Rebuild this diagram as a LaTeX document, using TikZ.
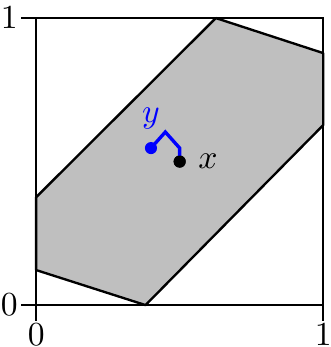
\documentclass[tikz,border=0pt]{standalone}
\usetikzlibrary{positioning}

\begin{document}
\begin{tikzpicture}[
        x=3cm, y=3cm,
        frame/.style={line width=0.7pt, line cap=rect},
        region/.style={fill=gray!50, draw=black, line width=0.7pt, line join=round},
        pdot/.style={circle, fill, inner sep=0pt, minimum size=3.6pt},
        geo/.style={blue, line width=1pt, line join=miter},
        ticklbl/.style={inner sep=1pt},
    ]
        \useasboundingbox (-0.126,-0.146) rectangle (1.0245,1.063);

        % fundamental domain
        \draw[region] (0,0.376) -- (0.626,1) -- (1,0.878) -- (1,0.627)
            -- (0.381,0) -- (0,0.122) -- cycle;

        % unit square with ticks
        \draw[frame] (0,0) rectangle (1,1);
        \draw[frame] (-0.05,0) -- (0,0) (0,-0.05) -- (0,0);
        \draw[frame] (-0.05,1) -- (0,1) (1,-0.05) -- (1,0);
        \node[ticklbl, left=0pt] (l0) at (-0.05,0) {$0$};
        \node[ticklbl, left=0pt] (l1) at (-0.05,1) {$1$};
        \node[ticklbl, below=0pt] (b0) at (0,-0.05) {$0$};
        \node[ticklbl, below=0pt] (b1) at (1,-0.05) {$1$};

        % points
        \node[pdot] (x) at (0.5,0.5) {};
        \node[pdot, blue] (y) at (0.4,0.547) {};
        \coordinate (c1) at (0.45,0.603);
        \coordinate (c2) at (0.5,0.547);
        \draw[geo] (y.center) -- (c1) -- (c2) -- (x.center);
        \node[pdot] at (x) {};
        \node[right=0pt of x] (xl) {$x$};
        \node[above=0pt of y, blue] (yl) {$y$};
    \end{tikzpicture}
\end{document}
